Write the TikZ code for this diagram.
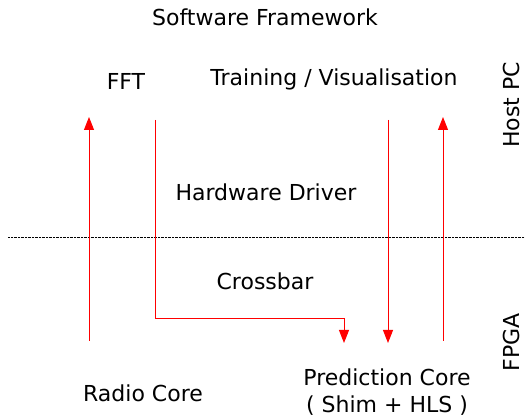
\documentclass[tikz,border=0pt]{standalone}
\usepackage{fontspec}
\setmainfont{DejaVu Sans}
\usetikzlibrary{arrows.meta}
\begin{document}
\begin{tikzpicture}[x=1pt,y=-1pt,
  lbl/.style={font=\fontsize{22}{27}\selectfont, inner sep=0pt, text=black},
  flow/.style={draw=red, line width=1pt, -{Triangle[length=13pt,width=10pt]}}]
\useasboundingbox (0,0) rectangle (525,419);
% layer labels
\node[lbl] (sw) at (265,17) {Software Framework};
\node[lbl] (fft) at (126,81) {FFT};
\node[lbl] (train) at (334,79) {Training / Visualisation};
\node[lbl] (drv) at (266,192) {Hardware Driver};
\node[lbl] (xbar) at (265,281) {Crossbar};
\node[lbl] (radio) at (143,393) {Radio Core};
\node[lbl, align=center] (pred) at (387,392) {Prediction Core\\( Shim + HLS )};
\node[lbl, rotate=90] (host) at (511,105) {Host PC};
\node[lbl, rotate=90] (fpga) at (511,342) {FPGA};
% host / fpga boundary
\coordinate (divl) at (8,237);
\coordinate (divr) at (525,237);
\draw[line width=0.8pt, dash pattern=on 0.8pt off 0.6pt] (divl) -- (divr);
% data paths
\coordinate (a1s) at (89,341);
\coordinate (a1e) at (89,117);
\draw[flow] (a1s) -- (a1e);
\coordinate (a2s) at (155,120);
\coordinate (a2k) at (344,319);
\coordinate (a2e) at (344,343);
\draw[flow] (a2s) |- (a2k) -- (a2e);
\coordinate (a3s) at (388,120);
\coordinate (a3e) at (388,343);
\draw[flow] (a3s) -- (a3e);
\coordinate (a4s) at (443,341);
\coordinate (a4e) at (443,117);
\draw[flow] (a4s) -- (a4e);
\end{tikzpicture}
\end{document}
